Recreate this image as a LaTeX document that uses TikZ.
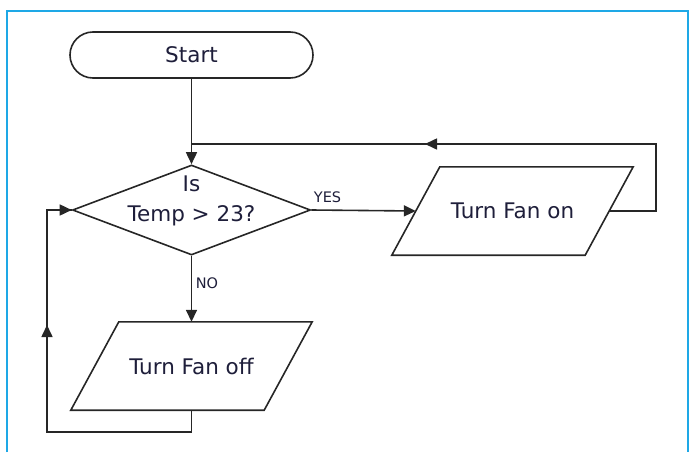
\documentclass[tikz,border=0pt]{standalone}
\usepackage{fontspec}
\setmainfont{DejaVu Sans}
\usetikzlibrary{shapes.geometric,arrows.meta}
\definecolor{framec}{HTML}{1EA8E6}
\definecolor{inkc}{HTML}{262626}
\definecolor{txtc}{HTML}{1E1E3A}
\tikzset{
  ln/.style={draw=inkc, line width=1.6pt},
  arr/.style={ln, -{Triangle[length=12pt,width=11pt]}},
  box/.style={inner sep=0pt, text=txtc, font=\fontsize{21.5}{30}\selectfont},
  parabox/.style={box, rectangle, minimum width=193pt, minimum height=88pt},
  lab/.style={text=txtc, inner sep=0pt, font=\fontsize{14.5}{16}\selectfont}
}
\begin{document}
\begin{tikzpicture}[x=1pt,y=-1pt]
\useasboundingbox (0,0) rectangle (690,452);
\draw[framec, line width=2pt] (7,452) -- (7,11) -- (688,11) -- (688,452);

\node[box, ln, rectangle, rounded corners=23pt, minimum width=243pt, minimum height=46pt] (start) at (191.5,55) {Start};
\node[ln, diamond, minimum width=238pt, minimum height=90pt, inner sep=0pt] (dec) at (191.5,210) {};
\node[box, align=center] (dect) at (191.5,201) {Is\\Temp > 23?};
\node[parabox] (fanon) at (512.5,211) {Turn Fan on};
\node[parabox] (fanoff) at (191.5,366) {Turn Fan off};

\foreach \p in {fanon,fanoff}{
  \draw[ln] ([xshift=24pt]\p.north west) -- ([xshift=24pt]\p.north east)
    -- ([xshift=-24pt]\p.south east) -- ([xshift=-24pt]\p.south west) -- cycle;
}

\coordinate (j) at (191.5,144);
\coordinate (rx) at (656,144);
\coordinate (ma) at (425,144);
\coordinate (bl) at (47,432);
\coordinate (mu) at (47,325);

\draw[arr] (start.south) -- (dec.north);
\draw[ln] (fanon.east) -| (rx) -- (j);
\draw[arr] (rx) -- (ma);
\draw[arr] (dec.east) -- (fanon.west);
\draw[arr] (dec.south) -- (fanoff.north);
\draw[ln] (fanoff.south) |- (bl) |- (dec.west);
\draw[arr] (bl |- dec.west) -- (dec.west);
\draw[arr] (bl) -- (mu);

\node[lab] (yes) at (327.5,197) {YES};
\node[lab] (no) at (207,283) {NO};
\end{tikzpicture}
\end{document}
